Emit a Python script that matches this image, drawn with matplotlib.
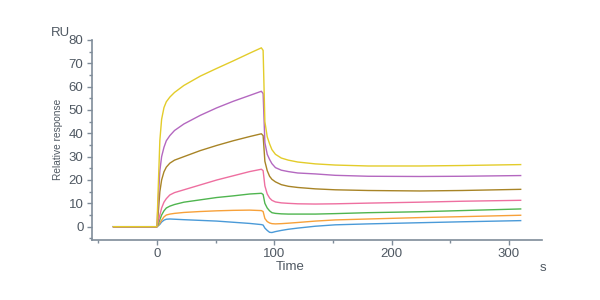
import matplotlib
matplotlib.use('Agg')
import matplotlib.pyplot as plt
from matplotlib.ticker import MultipleLocator

plt.rcParams['font.family'] = ['Liberation Sans', 'DejaVu Sans']

# time grid (s) shared by all curves
time = [-37, 0, 1, 2.5, 4, 6, 8, 11, 15, 23, 37, 51, 65, 79, 89, 90.5, 92, 94,
        96, 98, 101, 106, 112, 120, 135, 152, 180, 224, 260, 310]

# responses (RU)
blue = [0, 0, 0.3, 1, 2, 2.8, 3.2, 3.3, 3.2, 3, 2.7, 2.4, 1.9, 1.4, 0.9, 0.7, -0.6, -1.6,
        -2.4, -2.5, -2.1, -1.6, -1.1, -0.6, 0.2, 0.8, 1.2, 1.7, 2.1, 2.6]
orange = [0, 0, 0.5, 1.5, 2.8, 4.2, 5, 5.4, 5.7, 6.1, 6.5, 6.8, 7, 7.1, 6.9, 6.5, 3.5, 2.2,
          1.6, 1.3, 1.2, 1.3, 1.5, 1.8, 2.4, 2.9, 3.3, 3.9, 4.3, 4.9]
green = [0, 0, 1, 3, 5, 6.8, 8, 8.8, 9.5, 10.5, 11.5, 12.5, 13.2, 14, 14.3, 13.8, 10, 8,
         6.8, 6, 5.7, 5.5, 5.4, 5.4, 5.4, 5.6, 6, 6.4, 6.9, 7.6]
pink = [0, 0, 2, 5, 8, 10.5, 12, 13.6, 14.6, 15.8, 17.9, 20, 21.8, 23.6, 24.6, 24, 17.5, 14,
        12.3, 11.3, 10.6, 10.2, 10, 9.8, 9.7, 9.8, 10.1, 10.5, 10.9, 11.3]
brown = [0, 0, 5, 15, 20, 23.5, 25.5, 27.2, 28.5, 30, 32.6, 34.8, 36.8, 38.6, 39.8, 39, 28, 24,
         21.6, 20.3, 19.2, 18, 17.3, 16.8, 16.2, 15.8, 15.5, 15.3, 15.5, 16]
purple = [0, 0, 10, 24, 30, 34, 36.8, 39, 41.2, 44, 47.7, 50.9, 53.7, 56.2, 58, 57, 36, 31,
          28.8, 27, 25.3, 24.2, 23.6, 23, 22.6, 22, 21.6, 21.5, 21.6, 21.9]
yellow = [0, 0, 15, 37, 46, 51, 53.5, 55.5, 57.5, 60.5, 64.5, 67.8, 71, 74.3, 76.6, 75.5, 45, 38.5,
          35.5, 33, 31, 29.4, 28.5, 27.7, 26.9, 26.4, 26, 26, 26.2, 26.6]

series = [blue, orange, green, pink, brown, purple, yellow]
colors = ['#4a9ad8', '#f7a13a', '#4fb54f', '#ee6fa0', '#a88426', '#b468c0', '#e3cc2a']

axis_col = '#7f8c99'
text_col = '#4f5862'

fig = plt.figure(figsize=(6, 3), dpi=100)
ax = fig.add_axes([0.153, 0.2, 0.75, 0.667])

for y, c in zip(series, colors):
    ax.plot(time, y, color=c, lw=1.0)

ax.set_xlim(-55.5, 328)
ax.set_ylim(-5.7, 80)
ax.xaxis.set_major_locator(MultipleLocator(100))
ax.xaxis.set_minor_locator(MultipleLocator(50))
ax.yaxis.set_major_locator(MultipleLocator(10))
ax.yaxis.set_minor_locator(MultipleLocator(5))

for side in ['top', 'right']:
    ax.spines[side].set_visible(False)
for side in ['left', 'bottom']:
    ax.spines[side].set_color(axis_col)
    ax.spines[side].set_linewidth(1.2)

ax.tick_params(which='major', length=3.5, color=axis_col, labelcolor=text_col,
               labelsize=9.5, width=1, pad=2.5)
ax.tick_params(which='minor', length=2.5, color=axis_col, width=1)

fig.text(0.483, 0.11, 'Time', color=text_col, fontsize=9.5, ha='center', va='center')
fig.text(0.097, 0.535, 'Relative response', color=text_col, fontsize=7.3,
         rotation=90, ha='center', va='center')
fig.text(0.117, 0.89, 'RU', color=text_col, fontsize=9.5, ha='right', va='center')
fig.text(0.905, 0.108, 's', color=text_col, fontsize=9.5, ha='center', va='center')

fig.savefig('out.png', dpi=100)
